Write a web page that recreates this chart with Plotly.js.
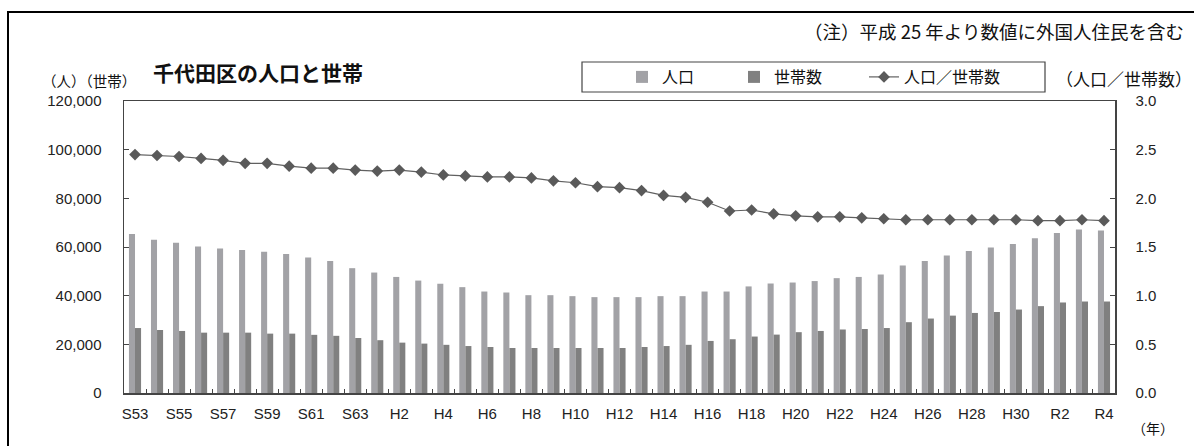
<!DOCTYPE html>
<html>
<head>
<meta charset="utf-8">
<script src="https://cdn.plot.ly/plotly-3.0.1.min.js"></script>
<style>html,body{margin:0;padding:0;background:#fff;}#chart{width:1194px;height:446px;}</style>
</head>
<body>
<div id="chart"></div>
<script>
const categories = ['S53','S54','S55','S56','S57','S58','S59','S60','S61','S62','S63',
  'H1','H2','H3','H4','H5','H6','H7','H8','H9','H10','H11','H12','H13','H14','H15','H16','H17','H18','H19','H20',
  'H21','H22','H23','H24','H25','H26','H27','H28','H29','H30','R1','R2','R3','R4'];
const population = [65300,63000,61700,60200,59400,58800,58000,57100,55700,54200,51300,
  49500,47700,46200,44900,43500,41700,41300,40200,40200,39800,39400,39400,39400,39800,39800,41700,41700,43800,45000,45400,
  46000,47200,47700,48700,52400,54200,56500,58400,59800,61200,63600,65800,67200,66800];
const households = [26700,25900,25500,24800,24800,24800,24400,24400,23900,23500,22600,
  21700,20700,20300,19800,19300,18900,18500,18500,18500,18500,18500,18500,18900,19300,19800,21400,22100,23200,24000,25000,
  25500,26100,26300,26700,29100,30600,31800,32900,33300,34300,35700,37200,37600,37600];
const perHousehold = [2.45,2.44,2.43,2.41,2.39,2.36,2.36,2.33,2.31,2.31,2.29,
  2.28,2.29,2.27,2.24,2.23,2.22,2.22,2.21,2.18,2.16,2.12,2.11,2.08,2.03,2.01,1.96,1.87,1.88,1.84,1.82,
  1.81,1.81,1.80,1.79,1.78,1.78,1.78,1.78,1.78,1.78,1.77,1.77,1.78,1.77];
const tickLabels = categories.map((c, i) => (i % 2 === 0 ? c : ''));
const seriesNames = ['人口', '世帯数', '人口／世帯数'];

const W = 1194, H = 446;
const M = {l: 124, r: 79, t: 101, b: 53};
const pw = W - M.l - M.r, ph = H - M.t - M.b;
const px = x => (x - M.l) / pw;
const py = y => 1 - (y - M.t) / ph;

const jp = '"Noto Sans CJK JP", "Noto Sans", sans-serif';
const lat = '"Liberation Sans", Arial, sans-serif';

const traces = [
  {type: 'bar', name: seriesNames[0], x: categories, y: population, legend: 'legend',
   marker: {color: '#a2a2a6'}, hoverinfo: 'x+y'},
  {type: 'bar', name: seriesNames[1], x: categories, y: households, legend: 'legend2',
   marker: {color: '#808080'}, hoverinfo: 'x+y'},
  {type: 'scatter', mode: 'lines+markers', name: seriesNames[2], x: categories, y: perHousehold,
   yaxis: 'y2', legend: 'legend3', line: {color: '#606060', width: 1.2},
   marker: {symbol: 'diamond', size: 9, color: '#5a5a5a'}}
];

const legendBase = (iconCenter) => ({
  orientation: 'h', x: px(iconCenter - 18), xanchor: 'left', y: py(77), yanchor: 'middle',
  itemwidth: 30, font: {family: jp, size: 16, color: '#111'}, borderwidth: 0, bgcolor: 'rgba(0,0,0,0)'
});

const layout = {
  width: W, height: H,
  margin: M,
  paper_bgcolor: '#fff', plot_bgcolor: '#fff',
  barmode: 'group', bargap: 0.45, bargroupgap: 0,
  font: {family: lat, size: 15, color: '#222'},
  showlegend: true,
  legend: legendBase(640),
  legend2: legendBase(752),
  legend3: legendBase(882),
  xaxis: {
    type: 'category', range: [-0.5, categories.length - 0.5], autorange: false,
    tickmode: 'array', tickvals: categories, ticktext: tickLabels,
    tickson: 'boundaries', ticks: 'inside', ticklen: 4, tickcolor: '#444', tickwidth: 1,
    showline: true, linecolor: '#444', linewidth: 1.5, mirror: true,
    showgrid: false, zeroline: false, tickangle: 0,
    tickfont: {family: lat, size: 15, color: '#222'}, ticklabelstandoff: 6
  },
  yaxis: {
    range: [0, 120000], dtick: 20000, tickformat: ',d',
    ticks: 'inside', ticklen: 5, tickcolor: '#444',
    showline: true, linecolor: '#444', linewidth: 1.5,
    showgrid: false, zeroline: false,
    tickfont: {family: lat, size: 15, color: '#222'}, ticklabelstandoff: 18
  },
  yaxis2: {
    range: [0, 3], dtick: 0.5, tickformat: '.1f', overlaying: 'y', side: 'right',
    ticks: 'inside', ticklen: 5, tickcolor: '#444',
    showline: true, linecolor: '#444', linewidth: 1.5,
    showgrid: false, zeroline: false,
    tickfont: {family: lat, size: 15, color: '#222'}, ticklabelstandoff: 16
  },
  shapes: [
    {type: 'rect', xref: 'paper', yref: 'paper', x0: px(8), x1: px(1210), y0: py(470), y1: py(12),
     line: {color: '#000', width: 2}, fillcolor: 'rgba(0,0,0,0)', layer: 'below'},
    {type: 'rect', xref: 'paper', yref: 'paper', x0: px(582), x1: px(1045), y0: py(92), y1: py(62),
     line: {color: '#444', width: 1.2}, fillcolor: 'rgba(0,0,0,0)'}
  ],
  annotations: [
    {text: '（注）平成 25 年より数値に外国人住民を含む', xref: 'paper', yref: 'paper',
     x: px(1186), y: py(31), xanchor: 'right', yanchor: 'middle', showarrow: false,
     font: {family: jp, size: 18.5, color: '#111'}},
    {text: '<b>千代田区の人口と世帯</b>', xref: 'paper', yref: 'paper',
     x: px(151), y: py(72), xanchor: 'left', yanchor: 'middle', showarrow: false,
     font: {family: jp, size: 21, color: '#111'}},
    {text: '（人）（世帯）', xref: 'paper', yref: 'paper',
     x: px(40), y: py(80), xanchor: 'left', yanchor: 'middle', showarrow: false,
     font: {family: jp, size: 14.5, color: '#111'}},
    {text: '（人口／世帯数）', xref: 'paper', yref: 'paper',
     x: px(1054), y: py(78), xanchor: 'left', yanchor: 'middle', showarrow: false,
     font: {family: jp, size: 17, color: '#111'}},
    {text: '（年）', xref: 'paper', yref: 'paper',
     x: px(1153), y: py(428), xanchor: 'center', yanchor: 'middle', showarrow: false,
     font: {family: jp, size: 14, color: '#111'}}
  ]
};

Plotly.newPlot('chart', traces, layout, {displayModeBar: false, staticPlot: true});
</script>
</body>
</html>
